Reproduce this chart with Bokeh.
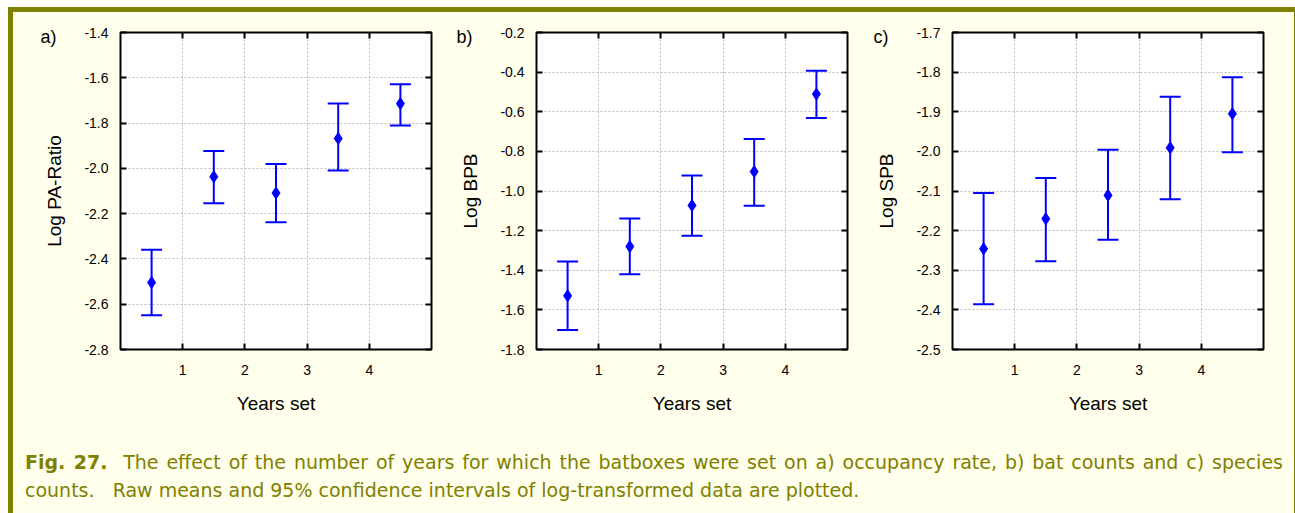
from bokeh.plotting import figure
from bokeh.models import (Range1d, FixedTicker, PrintfTickFormatter, LinearAxis, Grid,
                          Whisker, TeeHead, ColumnDataSource, Div,
                          CustomLabelingPolicy)
from bokeh.layouts import row, column
from bokeh.embed import file_html
from bokeh.resources import INLINE

# ---------------- data ----------------
years_pos = [0.5, 1.5, 2.5, 3.5, 4.5]
x_ticks = [1, 2, 3, 4]
x_label = "Years set"

pa_mean = [-2.504, -2.037, -2.109, -1.868, -1.714]
pa_upper = [-2.360, -1.923, -1.981, -1.714, -1.628]
pa_lower = [-2.649, -2.154, -2.238, -2.009, -1.811]
pa_ticks = [-2.8, -2.6, -2.4, -2.2, -2.0, -1.8, -1.6, -1.4]

bpb_mean = [-1.529, -1.280, -1.073, -0.902, -0.511]
bpb_upper = [-1.356, -1.139, -0.922, -0.738, -0.393]
bpb_lower = [-1.702, -1.420, -1.226, -1.075, -0.631]
bpb_ticks = [-1.8, -1.6, -1.4, -1.2, -1.0, -0.8, -0.6, -0.4, -0.2]

spb_mean = [-2.246, -2.170, -2.111, -1.991, -1.905]
spb_upper = [-2.105, -2.067, -1.996, -1.862, -1.813]
spb_lower = [-2.386, -2.277, -2.223, -2.121, -2.002]
spb_ticks = [-2.5, -2.4, -2.3, -2.2, -2.1, -2.0, -1.9, -1.8, -1.7]

caption_bold = "Fig. 27."
caption_line1 = ("The effect of the number of years for which the batboxes were set on "
                 "a) occupancy rate, b) bat counts and c) species")
caption_line2 = "counts.&nbsp;&nbsp; Raw means and 95% confidence intervals of log-transformed data are plotted."

# ---------------- style ----------------
CREAM = "#FFFFEC"
OLIVE = "#808000"
BLUE = "#0000FF"
FONT = "Liberation Sans"
FRAME_H = 317

hide_labels = CustomLabelingPolicy(
    code="for (let i = 0; i < indices.size; i++) { indices.unset(i) } return indices")


def make_panel(tag, ylabel, mean, upper, lower, yticks, left, right):
    p = figure(frame_width=311, frame_height=FRAME_H,
               min_border_left=left, min_border_right=right,
               min_border_top=20, min_border_bottom=71,
               x_range=Range1d(0, 5), y_range=Range1d(yticks[0], yticks[-1]),
               output_backend="svg", toolbar_location=None,
               x_axis_type=None, y_axis_type=None)
    p.background_fill_color = "white"
    p.border_fill_color = CREAM
    p.outline_line_color = "black"
    p.outline_line_width = 2
    # pixel-unit range used only to place the panel tag ("a)", "b)", "c)")
    p.extra_y_ranges = {"tag": Range1d(0, FRAME_H)}

    xt = FixedTicker(ticks=x_ticks, minor_ticks=[])
    yt = FixedTicker(ticks=yticks, minor_ticks=[])

    def style_axis(ax, labels=True):
        ax.axis_line_color = None
        ax.major_tick_in = 6
        ax.major_tick_out = 0
        ax.major_tick_line_width = 2
        ax.major_tick_line_color = "black"
        ax.minor_tick_in = 0
        ax.minor_tick_out = 0
        if labels:
            ax.major_label_text_font = FONT
            ax.major_label_text_font_size = "14px"
            ax.major_label_text_color = "black"
            ax.axis_label_text_font = FONT
            ax.axis_label_text_font_size = "19px"
            ax.axis_label_text_font_style = "normal"
            ax.axis_label_text_color = "black"
        else:
            ax.major_label_policy = hide_labels
            ax.major_label_text_font_size = "0px"
            ax.major_label_standoff = 0

    xb = LinearAxis(ticker=xt, axis_label=x_label)
    style_axis(xb)
    xb.major_label_standoff = 15
    xb.axis_label_standoff = 15
    p.add_layout(xb, "below")

    yl = LinearAxis(ticker=yt, axis_label=ylabel,
                    formatter=PrintfTickFormatter(format="%.1f"))
    style_axis(yl)
    yl.major_label_standoff = 12
    yl.axis_label_standoff = 16
    p.add_layout(yl, "left")

    # panel tag drawn as the single label of an outer left axis
    tag_axis = LinearAxis(y_range_name="tag",
                          ticker=FixedTicker(ticks=[FRAME_H - 4], minor_ticks=[]),
                          major_label_overrides={FRAME_H - 4: tag})
    tag_axis.axis_line_color = None
    tag_axis.major_tick_line_color = None
    tag_axis.major_tick_in = 0
    tag_axis.major_tick_out = 0
    tag_axis.minor_tick_in = 0
    tag_axis.minor_tick_out = 0
    tag_axis.major_label_standoff = -15
    tag_axis.major_label_text_font = FONT
    tag_axis.major_label_text_font_size = "18px"
    tag_axis.major_label_text_color = "black"
    p.add_layout(tag_axis, "left")

    xa = LinearAxis(ticker=xt)
    style_axis(xa, labels=False)
    p.add_layout(xa, "above")
    yr = LinearAxis(ticker=yt)
    style_axis(yr, labels=False)
    p.add_layout(yr, "right")

    p.add_layout(Grid(dimension=0, ticker=xt, grid_line_color="#BDBDBD",
                      grid_line_dash="2 2", grid_line_width=1))
    p.add_layout(Grid(dimension=1, ticker=yt, grid_line_color="#BDBDBD",
                      grid_line_dash="2 2", grid_line_width=1))

    src = ColumnDataSource(dict(x=years_pos, mean=mean, upper=upper, lower=lower))
    w = Whisker(source=src, base="x", upper="upper", lower="lower",
                dimension="height", line_color=BLUE, line_width=2,
                upper_head=TeeHead(size=21, line_color=BLUE, line_width=2),
                lower_head=TeeHead(size=21, line_color=BLUE, line_width=2))
    p.add_layout(w)
    p.scatter("x", "mean", source=src, marker="diamond", size=12,
              fill_color=BLUE, line_color=BLUE)
    return p


pa = make_panel("a)", "Log PA-Ratio", pa_mean, pa_upper, pa_lower, pa_ticks, 107, 4)
pb = make_panel("b)", "Log BPB", bpb_mean, bpb_upper, bpb_lower, bpb_ticks, 101, 4)
pc = make_panel("c)", "Log SPB", spb_mean, spb_upper, spb_lower, spb_ticks, 101, 31)

caption_html = (
    '<div style="padding:28px 11px 0 12px; width:1258px; font-family:\'DejaVu Sans\'; '
    'font-size:19px; line-height:28px; color:%s;">'
    '<div style="width:1258px; text-align:justify; text-align-last:justify;">'
    '<b>%s</b>&nbsp; %s</div>'
    '<div>%s</div></div>' % (OLIVE, caption_bold, caption_line1, caption_line2)
)
caption = Div(text=caption_html, width=1281, height=93, margin=0,
              styles={"background-color": CREAM})

white_top = Div(text="", width=1295, height=7, margin=0, styles={"background-color": "white"})
white_left = Div(text="", width=8, height=506, margin=0, styles={"background-color": "white"})
top_bar = Div(text="", width=1287, height=5, margin=0, styles={"background-color": OLIVE})
left_bar = Div(text="", width=5, height=501, margin=0, styles={"background-color": OLIVE})
right_bar = Div(text="", width=1, height=501, margin=0, styles={"background-color": OLIVE})

content = column(row(pa, pb, pc, spacing=0), caption, spacing=0)
framed = column(top_bar, row(left_bar, content, right_bar, spacing=0), spacing=0)
layout = column(white_top, row(white_left, framed, spacing=0), spacing=0)

open("out.html", "w").write(file_html(layout, INLINE))
